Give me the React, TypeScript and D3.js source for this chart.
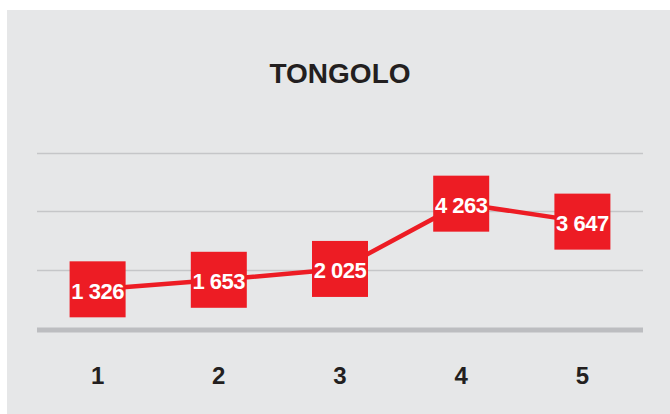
import React, { useEffect, useRef } from "react";
import * as d3 from "d3";

// chart data
const title = "TONGOLO";
const categories = ["1", "2", "3", "4", "5"];
const values = [1326, 1653, 2025, 4263, 3647];
const gridValues = [2000, 4000, 6000];

const App = () => {
  const ref = useRef<SVGSVGElement>(null);

  useEffect(() => {
    const svg = d3.select(ref.current);
    svg.selectAll("*").remove();

    const width = 670,
      height = 414;

    // background panel
    svg
      .append("rect")
      .attr("x", 7)
      .attr("y", 10)
      .attr("width", width - 7)
      .attr("height", height - 10)
      .attr("fill", "#e6e7e8");

    // title
    svg
      .append("text")
      .attr("x", 340)
      .attr("y", 83)
      .attr("text-anchor", "middle")
      .attr("font-family", "Liberation Sans, Arial, sans-serif")
      .attr("font-weight", "bold")
      .attr("font-size", 28)
      .attr("fill", "#231f20")
      .text(title);

    const x = d3.scalePoint().domain(categories).range([37, 643]).padding(0.5);
    const y = d3.scaleLinear().domain([0, 6000]).range([328, 153]);

    // gridlines
    svg
      .selectAll(".grid")
      .data(gridValues)
      .enter()
      .append("line")
      .attr("class", "grid")
      .attr("x1", 37)
      .attr("x2", 643)
      .attr("y1", (d) => Math.round(y(d)) + 0.5)
      .attr("y2", (d) => Math.round(y(d)) + 0.5)
      .attr("stroke", "#c5c6c8")
      .attr("stroke-width", 1.5);

    // baseline
    svg
      .append("line")
      .attr("x1", 37)
      .attr("x2", 643)
      .attr("y1", y(0) + 2)
      .attr("y2", y(0) + 2)
      .attr("stroke", "#bcbdc0")
      .attr("stroke-width", 5);

    // x labels
    svg
      .selectAll(".xlabel")
      .data(categories)
      .enter()
      .append("text")
      .attr("class", "xlabel")
      .attr("x", (d) => x(d)!)
      .attr("y", 384)
      .attr("text-anchor", "middle")
      .attr("font-family", "Liberation Sans, Arial, sans-serif")
      .attr("font-weight", "bold")
      .attr("font-size", 24)
      .attr("fill", "#231f20")
      .text((d) => d);

    const points = categories.map((c, i) => [x(c)!, y(values[i])] as [number, number]);

    // line
    svg
      .append("path")
      .datum(points)
      .attr("d", d3.line())
      .attr("fill", "none")
      .attr("stroke", "#ed1c24")
      .attr("stroke-width", 4.5);

    const fmt = (v: number) => d3.format(",")(v).replace(",", " ");
    const box = 56;

    // value boxes
    const g = svg
      .selectAll(".point")
      .data(points)
      .enter()
      .append("g")
      .attr("class", "point")
      .attr("transform", (d) => `translate(${d[0]}, ${d[1]})`);

    g.append("rect")
      .attr("x", -box / 2)
      .attr("y", -box / 2)
      .attr("width", box)
      .attr("height", box)
      .attr("fill", "#ed1c24");

    g.append("text")
      .attr("y", 9.5)
      .attr("text-anchor", "middle")
      .attr("font-family", "Liberation Sans, Arial, sans-serif")
      .attr("font-weight", "bold")
      .attr("font-size", 22)
      .attr("letter-spacing", -0.5)
      .attr("fill", "#ffffff")
      .text((d, i) => fmt(values[i]));
  }, []);

  return (
    <svg
      ref={ref}
      width={670}
      height={414}
      style={{ position: "absolute", left: 0, top: 0, display: "block" }}
    ></svg>
  );
};

export default App;
